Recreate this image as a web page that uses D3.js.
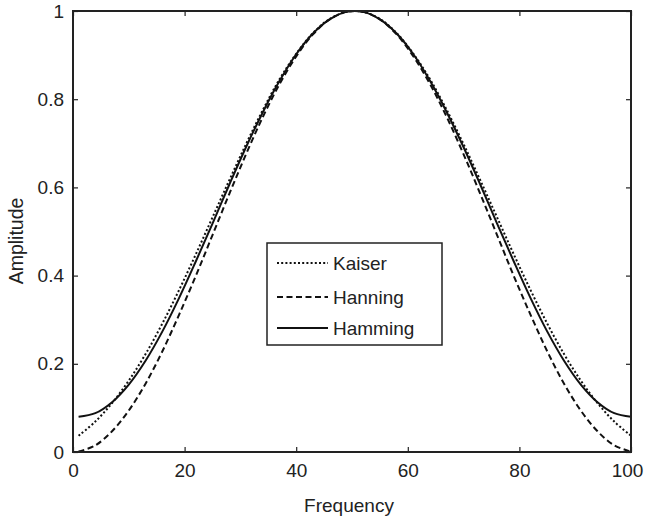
<!DOCTYPE html>
<meta charset="utf-8">
<html>
<head>
<title>Window functions</title>
<script src="https://cdn.jsdelivr.net/npm/d3@7/dist/d3.min.js"></script>
<style>
    *{ margin:0; padding:0;}
    body{ background:#fff;}
    svg text{ font-family:'Liberation Sans', Arial, sans-serif; fill:#222;}
</style>
</head>
<body>
<div id="chartContainer"></div>
<script>
    // sample positions (1..100, every 3rd point)
    var freq = [1, 4, 7, 10, 13, 16, 19, 22, 25, 28, 31, 34, 37, 40, 43, 46, 49,
                52, 55, 58, 61, 64, 67, 70, 73, 76, 79, 82, 85, 88, 91, 94, 97, 100];
    var kaiser = [0.037, 0.069, 0.111, 0.162, 0.222, 0.291, 0.367, 0.448, 0.532, 0.616, 0.698, 0.775, 0.845, 0.903, 0.950, 0.982, 0.998,
                  0.998, 0.982, 0.950, 0.903, 0.845, 0.775, 0.698, 0.616, 0.532, 0.448, 0.367, 0.291, 0.222, 0.162, 0.111, 0.069, 0.037];
    var hanning = [0.001, 0.015, 0.047, 0.094, 0.155, 0.228, 0.311, 0.399, 0.492, 0.585, 0.675, 0.759, 0.834, 0.897, 0.947, 0.981, 0.998,
                   0.998, 0.981, 0.947, 0.897, 0.834, 0.759, 0.675, 0.585, 0.492, 0.399, 0.311, 0.228, 0.155, 0.094, 0.047, 0.015, 0.001];
    var hamming = [0.080, 0.088, 0.113, 0.153, 0.207, 0.273, 0.349, 0.432, 0.518, 0.606, 0.691, 0.770, 0.841, 0.902, 0.949, 0.981, 0.998,
                   0.998, 0.981, 0.949, 0.902, 0.841, 0.770, 0.691, 0.606, 0.518, 0.432, 0.349, 0.273, 0.207, 0.153, 0.113, 0.088, 0.080];
    var xTicks = [0, 20, 40, 60, 80, 100];
    var yTicks = [0, 0.2, 0.4, 0.6, 0.8, 1];

    var series = [
        {name: "Kaiser", values: kaiser, dash: "2,2.2"},
        {name: "Hanning", values: hanning, dash: "6,3.5"},
        {name: "Hamming", values: hamming, dash: null}
    ];

    var width = 645, height = 520;
    var margin = {left: 73, right: 14, top: 11, bottom: 68};
    var w = width - margin.left - margin.right,
        h = height - margin.top - margin.bottom;

    var svg = d3.select("#chartContainer").append("svg")
        .attr("width", width).attr("height", height);
    var g = svg.append("g").attr("transform", "translate(" + margin.left + "," + margin.top + ")");

    var x = d3.scaleLinear().domain([0, 100]).range([0, w]);
    var y = d3.scaleLinear().domain([0, 1]).range([h, 0]);

    svg.append("defs").append("clipPath").attr("id", "plotClip")
        .append("rect").attr("x", 0).attr("y", -1).attr("width", w).attr("height", h + 2);

    var line = d3.line()
        .x(function (d) { return x(d[0]); })
        .y(function (d) { return y(d[1]); })
        .curve(d3.curveCatmullRom);

    g.append("g").attr("clip-path", "url(#plotClip)")
        .selectAll("path").data(series).enter().append("path")
        .attr("d", function (s) { return line(freq.map(function (f, i) { return [f, s.values[i]]; })); })
        .attr("fill", "none")
        .attr("stroke", "#111")
        .attr("stroke-width", 2)
        .attr("stroke-dasharray", function (s) { return s.dash; });

    // axes, ticks pointing inward (matlab style)
    var tickLen = 5;
    var fmt = function (d) { return d3.format("")(+d.toFixed(1)); };
    var xb = g.append("g").attr("transform", "translate(0," + h + ")")
        .call(d3.axisBottom(x).tickValues(xTicks).tickSize(-tickLen).tickPadding(12).tickFormat(fmt));
    var yl = g.append("g")
        .call(d3.axisLeft(y).tickValues(yTicks).tickSize(-tickLen).tickPadding(9).tickFormat(fmt));
    var xt = g.append("g")
        .call(d3.axisTop(x).tickValues(xTicks).tickSize(-tickLen).tickFormat(""));
    var yr = g.append("g").attr("transform", "translate(" + w + ",0)")
        .call(d3.axisRight(y).tickValues(yTicks).tickSize(-tickLen).tickFormat(""));

    [xb, yl, xt, yr].forEach(function (a) {
        a.select(".domain").remove();
        a.selectAll(".tick line").attr("stroke", "#222").attr("stroke-width", 1.2);
        a.selectAll(".tick text").style("font-size", "19px").attr("fill", "#222");
    });
    // last x label sits a bit left so it stays inside the page
    xb.selectAll(".tick text").filter(function (d) { return d === 100; }).attr("dx", -4);

    g.append("rect").attr("x", 0).attr("y", 0).attr("width", w).attr("height", h)
        .attr("fill", "none").attr("stroke", "#222").attr("stroke-width", 2);

    svg.append("text")
        .attr("x", 349).attr("y", 512)
        .attr("text-anchor", "middle").style("font-size", "19px")
        .text("Frequency");
    svg.append("text")
        .attr("transform", "translate(23,241) rotate(-90)")
        .attr("text-anchor", "middle").style("font-size", "19.5px")
        .text("Amplitude");

    // legend
    var lg = svg.append("g").attr("transform", "translate(267,243)");
    lg.append("rect").attr("width", 175).attr("height", 102)
        .attr("fill", "#fff").attr("stroke", "#222").attr("stroke-width", 1.5);
    var item = lg.selectAll("g.item").data(series).enter().append("g")
        .attr("class", "item")
        .attr("transform", function (d, i) { return "translate(0," + [20, 54, 85][i] + ")"; });
    item.append("line").attr("x1", 10).attr("x2", 61).attr("y1", 0).attr("y2", 0)
        .attr("stroke", "#111").attr("stroke-width", 2)
        .attr("stroke-dasharray", function (d) { return d.dash; });
    item.append("text").attr("x", 66).attr("y", 7).style("font-size", "19px")
        .text(function (d) { return d.name; });
</script>
</body>
</html>
